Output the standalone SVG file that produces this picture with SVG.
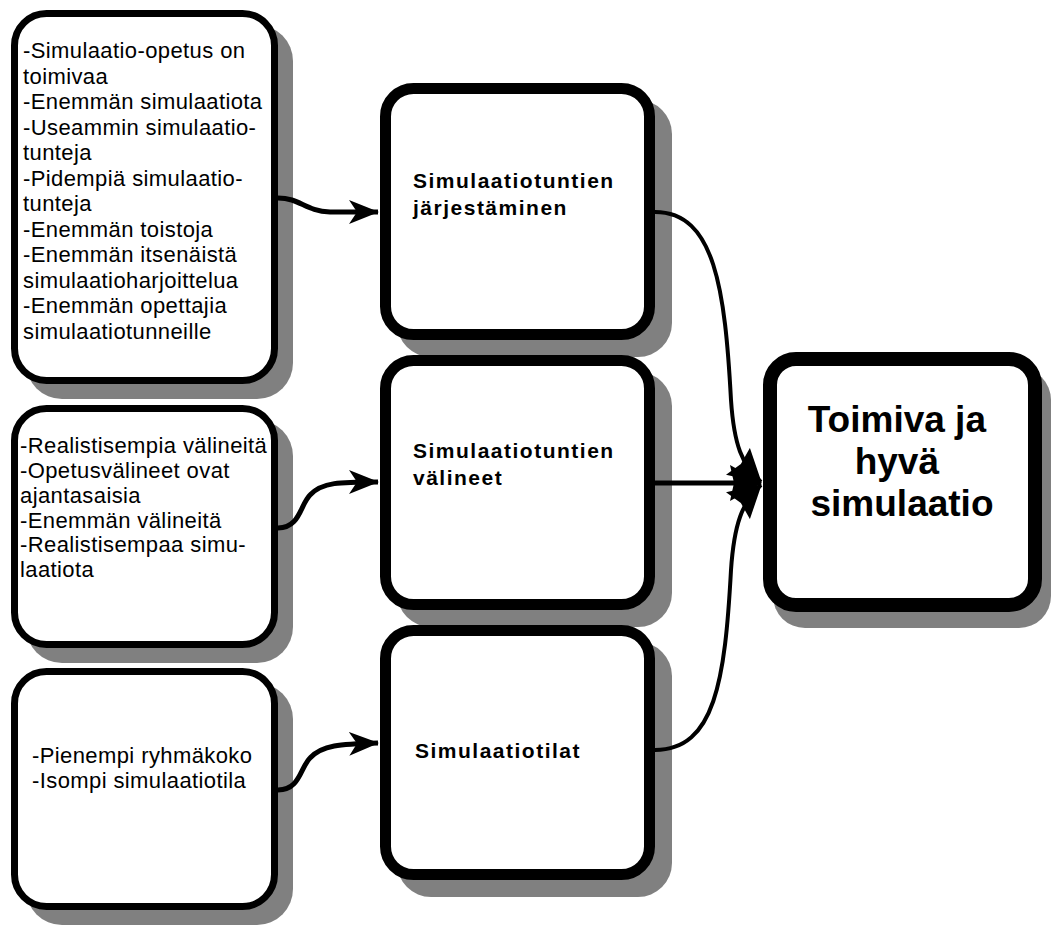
<svg xmlns="http://www.w3.org/2000/svg" width="1051" height="939" viewBox="0 0 1051 939">
<style>
.sh{fill:#808080}
.bx{fill:#fff;stroke:#000}
.b1{stroke-width:7}
.b2{stroke-width:11}
.b3{stroke-width:14}
.t{font-family:"Liberation Sans",Arial,sans-serif;font-size:22px;letter-spacing:0.4px;fill:#000}
.m{font-family:"Liberation Sans",Arial,sans-serif;font-size:21px;font-weight:bold;letter-spacing:1.5px;fill:#000}
.f{font-family:"Liberation Sans",Arial,sans-serif;font-size:37px;font-weight:bold;fill:#000;text-anchor:middle}
.c{fill:none;stroke:#000;stroke-linecap:butt}
</style>
<defs>
<marker id="ah" markerUnits="userSpaceOnUse" viewBox="0 0 30 24" refX="29" refY="12" markerWidth="30" markerHeight="24" orient="auto">
<path d="M0,0 L30,12 L0,24 L8,12 Z" fill="#000"/>
</marker>
<marker id="ah2" markerUnits="userSpaceOnUse" viewBox="0 0 32 36" refX="31" refY="18" markerWidth="32" markerHeight="36" orient="auto">
<path d="M0,0 L32,18 L0,36 L4,18 Z" fill="#000"/>
</marker>
</defs>

<g id="box1">
<rect class="sh" x="26" y="25" width="267" height="374" rx="36"/>
<rect class="bx b1" x="14.5" y="13.5" width="260" height="367" rx="32"/>
<text class="t" x="23">
<tspan x="23" y="58">-Simulaatio-opetus on</tspan>
<tspan x="23" y="83.5">toimivaa</tspan>
<tspan x="23" y="109">-Enemmän simulaatiota</tspan>
<tspan x="23" y="134.5">-Useammin simulaatio-</tspan>
<tspan x="23" y="160">tunteja</tspan>
<tspan x="23" y="185.5">-Pidempiä simulaatio-</tspan>
<tspan x="23" y="211">tunteja</tspan>
<tspan x="23" y="236.5">-Enemmän toistoja</tspan>
<tspan x="23" y="262">-Enemmän itsenäistä</tspan>
<tspan x="23" y="287.5">simulaatioharjoittelua</tspan>
<tspan x="23" y="313">-Enemmän opettajia</tspan>
<tspan x="23" y="338.5">simulaatiotunneille</tspan>
</text>
</g>

<g id="box2">
<rect class="sh" x="26" y="420" width="267" height="243" rx="36"/>
<rect class="bx b1" x="14.5" y="408.5" width="260" height="236" rx="32"/>
<text class="t">
<tspan x="20" y="453">-Realistisempia välineitä</tspan>
<tspan x="20" y="478">-Opetusvälineet ovat</tspan>
<tspan x="20" y="502.5">ajantasaisia</tspan>
<tspan x="20" y="527.5">-Enemmän välineitä</tspan>
<tspan x="20" y="552">-Realistisempaa simu-</tspan>
<tspan x="20" y="576.5">laatiota</tspan>
</text>
</g>

<g id="box3">
<rect class="sh" x="26" y="683" width="267" height="242" rx="36"/>
<rect class="bx b1" x="14.5" y="671.5" width="260" height="235" rx="32"/>
<text class="t">
<tspan x="32" y="763">-Pienempi ryhmäkoko</tspan>
<tspan x="32" y="788">-Isompi simulaatiotila</tspan>
</text>
</g>

<g id="nodeA">
<rect class="sh" x="397" y="100" width="275" height="257" rx="34"/>
<rect class="bx b2" x="385.5" y="88.5" width="264" height="246" rx="28"/>
<text class="m">
<tspan x="413" y="188">Simulaatiotuntien</tspan>
<tspan x="413" y="215">järjestäminen</tspan>
</text>
</g>

<g id="nodeB">
<rect class="sh" x="397" y="372" width="275" height="255" rx="34"/>
<rect class="bx b2" x="385.5" y="360.5" width="264" height="244" rx="28"/>
<text class="m">
<tspan x="413" y="458">Simulaatiotuntien</tspan>
<tspan x="413" y="485">välineet</tspan>
</text>
</g>

<g id="nodeC">
<rect class="sh" x="397" y="642" width="275" height="255" rx="34"/>
<rect class="bx b2" x="385.5" y="630.5" width="264" height="244" rx="28"/>
<text class="m" x="415" y="758">Simulaatiotilat</text>
</g>

<g id="final">
<rect class="sh" x="773" y="368" width="278" height="260" rx="32"/>
<rect class="bx b3" x="770" y="359" width="265" height="246" rx="26"/>
<text class="f">
<tspan x="902" y="432">Toimiva ja</tspan>
<tspan x="902" y="474">hyvä</tspan>
<tspan x="902" y="516">simulaatio</tspan>
</text>
</g>

<g id="connectors">
<path class="c" d="M278,198 C300,198 305,211 330,212 L378,212" stroke-width="5" marker-end="url(#ah)"/>
<path class="c" d="M278,528 C300,528 300,505 310,495 C322,482 340,482 378,482" stroke-width="5" marker-end="url(#ah)"/>
<path class="c" d="M278,790 C300,790 300,768 310,758 C322,745 340,744 378,743" stroke-width="5" marker-end="url(#ah)"/>
<path class="c" d="M655,212 C715,212 725,290 731,400 C734,445 742,465 761,482" stroke-width="4" marker-end="url(#ah2)"/>
<path class="c" d="M655,483 L761,483" stroke-width="5" marker-end="url(#ah2)"/>
<path class="c" d="M655,750 C715,750 725,680 731,570 C734,525 742,502 761,485" stroke-width="4" marker-end="url(#ah2)"/>
</g>
</svg>
